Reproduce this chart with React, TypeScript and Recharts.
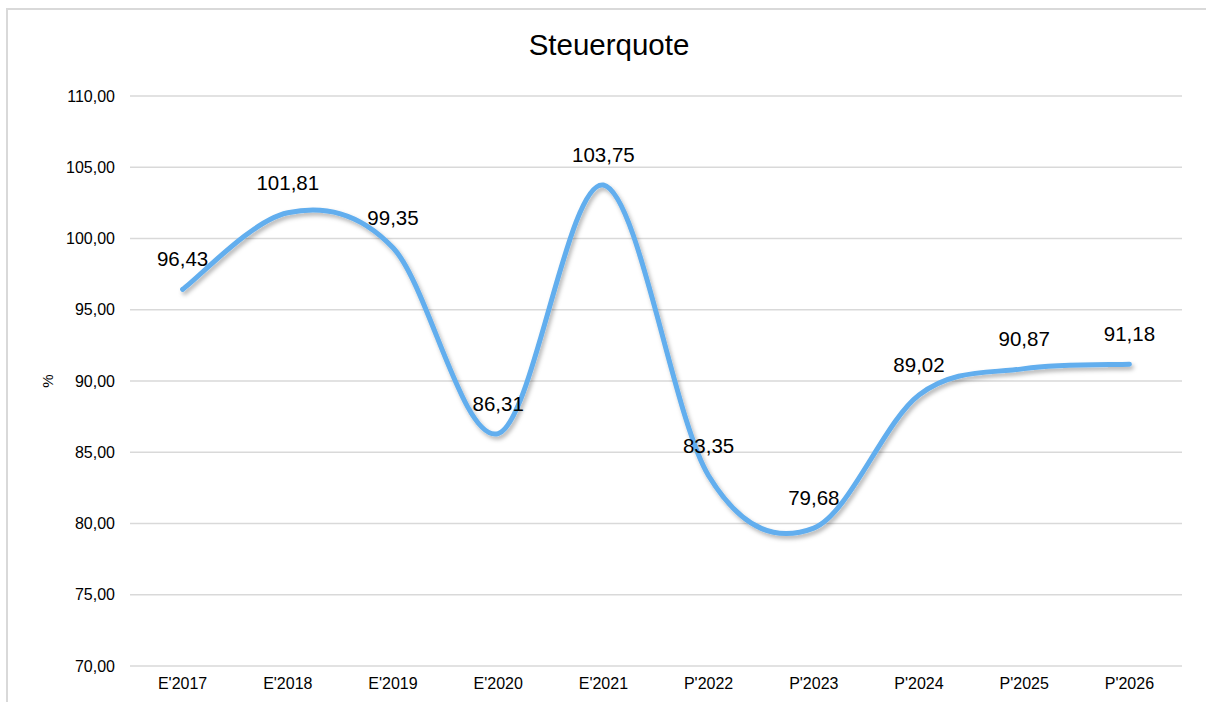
import { LineChart, Line, XAxis, YAxis, CartesianGrid, LabelList } from "recharts";

const years = ["E'2017", "E'2018", "E'2019", "E'2020", "E'2021", "P'2022", "P'2023", "P'2024", "P'2025", "P'2026"];
const quote = [96.43, 101.81, 99.35, 86.31, 103.75, 83.35, 79.68, 89.02, 90.87, 91.18];
const yTicks = [70, 75, 80, 85, 90, 95, 100, 105, 110];

const FONT = '"Liberation Sans", Arial, sans-serif';
const LINE_COLOR = "#62aeee";

const fmt = (v: any) => (typeof v === "number" ? v.toFixed(2).replace(".", ",") : String(v));

// Excel-like smoothed line (Catmull-Rom style bezier)
const excelSmooth = (context: any) => {
  let pts: number[][] = [];
  return {
    areaStart() {},
    areaEnd() {},
    lineStart() { pts = []; },
    point(x: number, y: number) { pts.push([+x, +y]); },
    lineEnd() {
      const n = pts.length;
      if (!n) return;
      context.moveTo(pts[0][0], pts[0][1]);
      for (let i = 0; i < n - 1; i++) {
        const p0 = pts[Math.max(i - 1, 0)], p1 = pts[i], p2 = pts[i + 1], p3 = pts[Math.min(i + 2, n - 1)];
        context.bezierCurveTo(
          p1[0] + (p2[0] - p0[0]) / 6, p1[1] + (p2[1] - p0[1]) / 6,
          p2[0] - (p3[0] - p1[0]) / 6, p2[1] - (p3[1] - p1[1]) / 6,
          p2[0], p2[1],
        );
      }
    },
  };
};

export default function App() {
  const data = years.map((year, i) => ({ year, value: quote[i] }));

  return (
    <div style={{ position: "absolute", left: 0, top: 0, width: 1206, height: 702, overflow: "hidden", background: "#fff", fontFamily: FONT }}>
      <div style={{ position: "absolute", left: 6, top: 8, width: 1400, height: 900, border: "2px solid #d9d9d9" }} />
      <svg width={0} height={0} style={{ position: "absolute", overflow: "hidden" }}>
        <defs>
          <filter id="lineShadow" x="-10%" y="-10%" width="120%" height="130%">
            <feDropShadow dx={2} dy={3} stdDeviation={2} floodColor="#000" floodOpacity={0.3} />
          </filter>
        </defs>
      </svg>
      <div style={{ position: "absolute", left: 0, width: 1218, top: 28, textAlign: "center", fontSize: 29.5, color: "#000" }}>
        Steuerquote
      </div>
      <div style={{ position: "absolute", left: 40, top: 373, width: 16, height: 16, transform: "rotate(-90deg)", fontSize: 15, textAlign: "center", lineHeight: "16px" }}>
        %
      </div>
      <div style={{ position: "absolute", left: 0, top: 0 }}>
        <LineChart width={1206} height={702} data={data} margin={{ top: 96, right: 24, bottom: 6, left: 0 }}>
          <CartesianGrid vertical={false} stroke="#d9d9d9" strokeWidth={1.5} />
          <XAxis dataKey="year" axisLine={false} tickLine={false} tickSize={0} tickMargin={12} height={30}
            padding={{ left: 52.6, right: 52.6 }} interval={0}
            tick={{ fill: "#000", fontSize: 16, fontFamily: FONT }} />
          <YAxis type="number" domain={[70, 110]} ticks={yTicks} width={130} axisLine={false} tickLine={false}
            tickSize={0} tickMargin={15} tickFormatter={fmt} interval={0}
            tick={{ fill: "#000", fontSize: 16, fontFamily: FONT }} />
          <Line dataKey="value" type={excelSmooth as any} stroke={LINE_COLOR} strokeWidth={5} strokeLinecap="round"
            dot={false} activeDot={false} filter="url(#lineShadow)" isAnimationActive={false}>
            <LabelList dataKey="value" position="top" offset={23} formatter={fmt}
              style={{ fill: "#000", fontSize: 20.5, fontFamily: FONT }} />
          </Line>
        </LineChart>
      </div>
    </div>
  );
}
